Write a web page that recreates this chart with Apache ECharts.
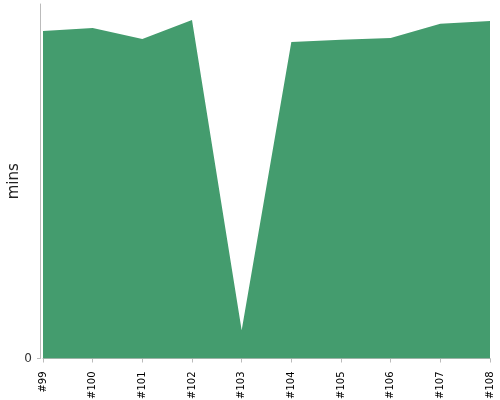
<!DOCTYPE html>
<html>
<head>
<meta charset="utf-8">
<script src="https://cdn.jsdelivr.net/npm/echarts@6/dist/echarts.min.js"></script>
<style>
html,body{margin:0;padding:0;background:#fff;}
#chart{width:500px;height:400px;}
</style>
</head>
<body>
<div id="chart"></div>
<script>
var categories = ['#99','#100','#101','#102','#103','#104','#105','#106','#107','#108'];
var durationMins = [9.24, 9.32, 9.01, 9.55, 0.80, 8.93, 8.99, 9.04, 9.44, 9.52];
var yTickValues = [0];
var yMax = 10;

var chart = echarts.init(document.getElementById('chart'));
chart.setOption({
  animation: false,
  grid: {left: 43, right: 10, top: 4, bottom: 41.5, containLabel: false, outerBoundsMode: 'none'},
  xAxis: {
    type: 'category',
    data: categories,
    boundaryGap: false,
    offset: 4,
    axisLine: {lineStyle: {color: '#bbb'}},
    axisTick: {show: true, length: 4, lineStyle: {color: '#bbb'}},
    axisLabel: {rotate: 90, fontSize: 10, color: '#000', fontFamily: 'DejaVu Sans', margin: 9},
    splitLine: {show: false}
  },
  yAxis: {
    type: 'value',
    min: 0,
    max: yMax,
    offset: 3,
    name: 'mins',
    nameLocation: 'middle',
    nameGap: 18,
    nameMoveOverlap: false,
    nameTextStyle: {fontSize: 15, color: '#222', fontFamily: 'DejaVu Sans'},
    axisLine: {show: true, lineStyle: {color: '#bbb'}},
    axisTick: {show: true, length: 3, customValues: yTickValues, lineStyle: {color: '#bbb'}},
    axisLabel: {
      fontSize: 12, color: '#333', fontFamily: 'DejaVu Sans', margin: 8,
      customValues: yTickValues
    },
    splitLine: {show: false}
  },
  series: [{
    type: 'line',
    data: durationMins,
    symbol: 'none',
    lineStyle: {width: 0},
    areaStyle: {color: '#449c6e', opacity: 1},
    itemStyle: {color: '#449c6e'}
  }]
});
</script>
</body>
</html>
